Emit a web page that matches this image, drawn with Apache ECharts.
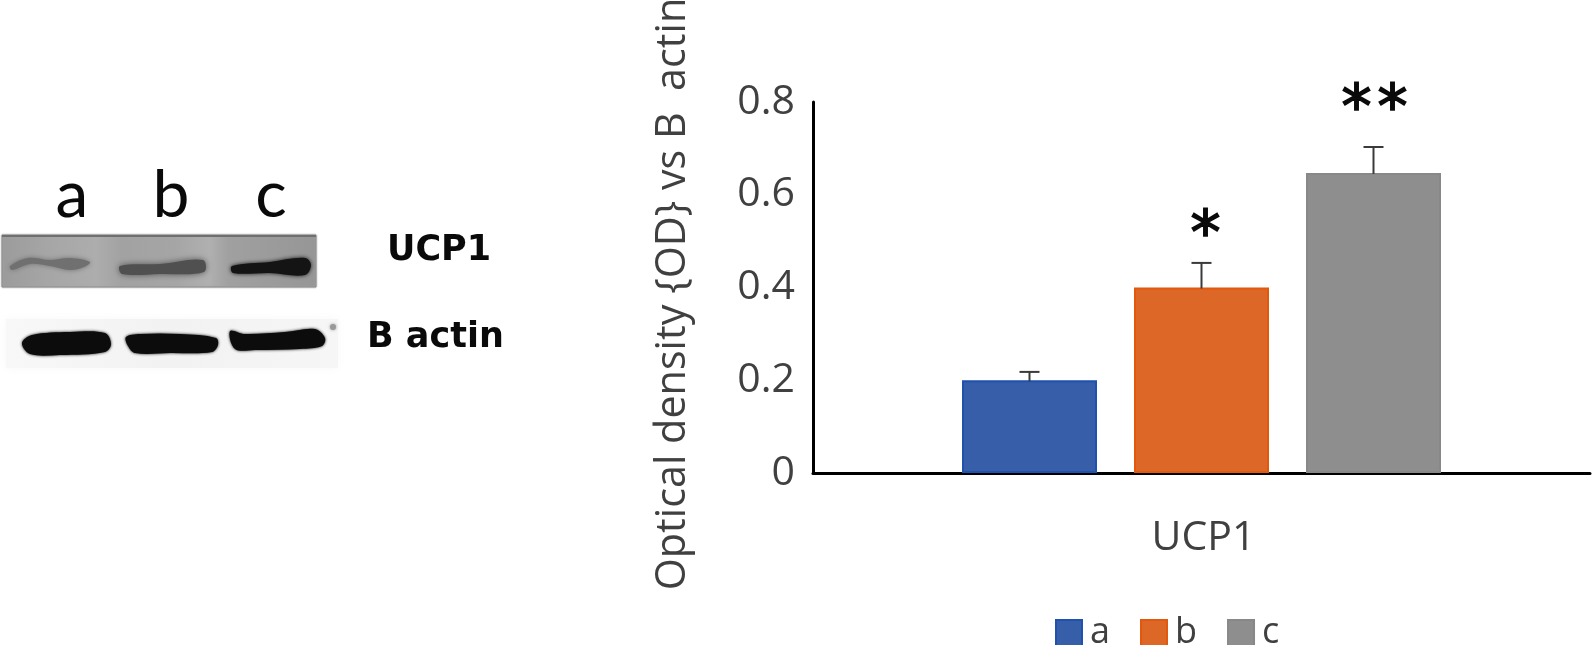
<!DOCTYPE html>
<html><head><meta charset="utf-8">
<style>html,body{margin:0;padding:0;background:#fff}#c{width:1594px;height:645px}</style>
<script src="https://cdn.jsdelivr.net/npm/echarts@6/dist/echarts.min.js"></script>
</head><body><div id="c"></div>
<script>
const categories = ['UCP1'];
const seriesNames = ['a', 'b', 'c'];
const values = [0.2, 0.4, 0.647];
const errorTops = [0.218, 0.453, 0.703];
const starLabels = [[], ['*'], ['*', '*']];
const starLevels = [0, 0.508, 0.78];
const yTicks = [0, 0.2, 0.4, 0.6, 0.8];
const fills = ['#365ea9', '#dd6727', '#8e8e8e'];
const borders = ['#1e52ae', '#e2590e', '#888888'];

const BAR_W = 135, BAR_GAP = 37;
const tickFont = '"Open Sans"';
const chart = echarts.init(document.getElementById('c'), null, {renderer: 'canvas'});

function band(points, blur, color) {
  return {type: 'polygon', silent: true,
    shape: {points, smooth: 0.35},
    style: {fill: color, shadowBlur: blur, shadowColor: color}};
}
function hGrad(stops) {
  return {type: 'linear', x: 0, y: 0, x2: 1, y2: 0,
    colorStops: stops.map(([offset, color]) => ({offset, color}))};
}
const blot = [
  {type: 'rect', silent: true, shape: {x: 2, y: 235, width: 314, height: 52},
   style: {fill: hGrad([[0,'#9b9b9b'],[0.15,'#a6a6a6'],[0.3,'#adadad'],[0.38,'#a2a2a2'],[0.55,'#a5a5a5'],[0.66,'#b0b0b0'],[0.72,'#a0a0a0'],[1,'#969696']]),
     stroke: '#8c8c8c', lineWidth: 1, shadowBlur: 2, shadowColor: '#aaa'}},
  {type: 'rect', silent: true, shape: {x: 2, y: 235, width: 314, height: 2}, style: {fill: '#6f6f6f'}},
  band([[10,266],[28,258],[50,260],[70,258],[90,262],[84,267],[70,270],[50,266],[30,264],[12,270]], 5, '#707070'),
  band([[120,266],[160,264],[203,260],[204,272],[160,274],[122,274]], 6, '#505050'),
  band([[232,266],[270,262],[305,258],[311,265],[305,275],[270,273],[233,273]], 4, '#141414'),
  {type: 'rect', silent: true, shape: {x: 6, y: 319, width: 332, height: 49},
   style: {fill: hGrad([[0,'#f8f8f8'],[0.5,'#f2f2f2'],[1,'#f6f6f6']]), shadowBlur: 8, shadowColor: '#f8f8f8'}},
  band([[22,343],[32,335],[70,332],[105,333],[111,344],[105,352],[60,355],[30,354]], 3, '#0c0c0c'),
  band([[126,337],[140,334],[180,334],[216,338],[218,345],[212,352],[170,353],[135,353],[128,346]], 3, '#0c0c0c'),
  band([[230,331],[245,334],[285,332],[315,329],[325,338],[322,346],[300,349],[255,350],[235,349]], 3, '#0c0c0c'),
  {type: 'circle', silent: true, shape: {cx: 333, cy: 327, r: 3}, style: {fill: '#999', shadowBlur: 3, shadowColor: '#999'}}
];
const blotLabels = [['a', 72, 229], ['b', 171, 229], ['c', 271, 229]].map(([t, x, y]) => ({
  type: 'text', silent: true, x, y,
  style: {text: t, fill: '#0a0a0a', font: '66px Lato', textAlign: 'center', textVerticalAlign: 'bottom'}
}));
const blotNames = [['UCP1', 387, 251], ['B actin', 367, 338]].map(([t, x, y]) => ({
  type: 'text', silent: true, x, y,
  style: {text: t, fill: '#0a0a0a', font: 'bold 35px "DejaVu Sans"', textAlign: 'left', textVerticalAlign: 'middle'}
}));

const barSeries = seriesNames.map((name, i) => ({
  name, type: 'bar', barWidth: BAR_W, barGap: (BAR_GAP / BAR_W * 100) + '%',
  data: [values[i]],
  itemStyle: {color: fills[i], borderColor: borders[i], borderWidth: 2}
}));

const errorSeries = {
  type: 'custom', name: 'error', silent: true, z: 5,
  data: values.map((v, i) => [0, v, errorTops[i], starLevels[i], i]),
  encode: {x: 0, y: 1},
  renderItem(params, api) {
    const i = api.value(4);
    const mid = api.coord([api.value(0), 0])[0] + (i - 1) * (BAR_W + BAR_GAP);
    const yBar = api.coord([0, api.value(1)])[1];
    const yTop = api.coord([0, api.value(2)])[1];
    const yStar = api.coord([0, api.value(3)])[1];
    const line = {stroke: '#3a3a3a', lineWidth: 2};
    const kids = [
      {type: 'line', shape: {x1: mid, y1: yBar + 1, x2: mid, y2: yTop}, style: line},
      {type: 'line', shape: {x1: mid - 10, y1: yTop, x2: mid + 10, y2: yTop}, style: line}
    ];
    const s = starLabels[i];
    s.forEach((t, k) => kids.push({
      type: 'text', x: mid + (k - (s.length - 1) / 2) * 36 + (s.length === 1 ? 4 : 1), y: yStar,
      style: {text: t, fill: '#0a0a0a', stroke: '#0a0a0a', lineWidth: 1.6, font: '60px "DejaVu Sans"', textAlign: 'center', textVerticalAlign: 'middle'}
    }));
    return {type: 'group', children: kids};
  }
};

chart.setOption({
  animation: false,
  backgroundColor: '#fff',
  grid: {left: 813, right: 4, top: 102, bottom: 172, containLabel: false, outerBoundsMode: 'none'},
  legend: {
    data: seriesNames, left: 1050, top: 610, icon: 'rect', itemWidth: 26, itemHeight: 26, itemGap: 30,
    textStyle: {color: '#404040', fontFamily: tickFont, fontSize: 36, padding: [0, 0, 0, 3]}
  },
  xAxis: {
    type: 'category', data: categories,
    axisLine: {lineStyle: {color: '#000', width: 3}}, axisTick: {show: false},
    axisLabel: {color: '#404040', fontFamily: tickFont, fontSize: 41, margin: 45, padding: [0, 0, 0, 4]}
  },
  yAxis: {
    type: 'value', min: 0, max: 0.8, interval: 0.2,
    name: 'Optical density {OD} vs B  actin', nameLocation: 'middle', nameGap: 119,
    nameTextStyle: {color: '#404040', fontFamily: tickFont, fontSize: 41.3, padding: [0, 0, 0, -13]},
    axisLine: {show: true, lineStyle: {color: '#000', width: 3}}, axisTick: {show: false}, splitLine: {show: false},
    axisLabel: {color: '#404040', fontFamily: tickFont, fontSize: 41, margin: 18, padding: [14, 0, 0, 0],
      formatter: v => (yTicks.includes(v) ? String(v) : '')}
  },
  graphic: {elements: [...blot, ...blotLabels, ...blotNames]},
  series: [...barSeries, errorSeries]
});
</script></body></html>
